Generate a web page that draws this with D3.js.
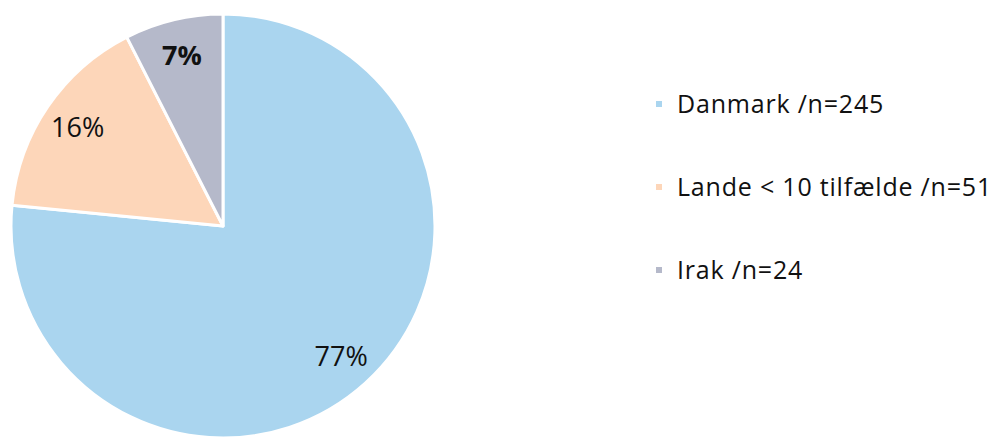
<!DOCTYPE html>
<html lang="da">
<head>
<meta charset="UTF-8">
<title>Fordeling</title>
<script src="https://cdn.jsdelivr.net/npm/d3@7"></script>
<style>
    html, body { margin: 0; padding: 0; background: #fff; }
    svg { display: block; font-family: "Open Sans", Lato, sans-serif; }
</style>
</head>
<body>
<svg id="chart" width="995" height="441"></svg>
<script>
    // Data
    const categories = ['Danmark /n=245', 'Lande < 10 tilfælde /n=51', 'Irak /n=24'];
    const counts = [245, 51, 24];
    const pctLabels = ['77%', '16%', '7%'];
    const colors = ['#aad5ef', '#fdd6b9', '#b5b9ca'];

    const svg = d3.select('#chart');
    const cx = 223, cy = 226, radius = 212;

    const g = svg.append('g').attr('transform', `translate(${cx},${cy})`);

    const pie = d3.pie().sort(null).value(d => d);
    const arcs = pie(counts);

    const arc = d3.arc().innerRadius(0).outerRadius(radius);
    const labelArc = d3.arc().innerRadius(176).outerRadius(176);

    // Skiver
    g.selectAll('.slice')
        .data(arcs)
        .enter()
        .append('path')
        .attr('class', 'slice')
        .attr('d', arc)
        .attr('fill', (d, i) => colors[i])
        .attr('stroke', '#fff')
        .attr('stroke-width', 3)
        .attr('stroke-linejoin', 'round');

    // Procent-etiketter
    g.selectAll('.pct')
        .data(arcs)
        .enter()
        .append('text')
        .attr('class', 'pct')
        .attr('transform', d => `translate(${labelArc.centroid(d)})`)
        .attr('text-anchor', 'middle')
        .attr('dy', '0.36em')
        .style('font-size', '27px')
        .style('font-weight', (d, i) => i === 2 ? 'bold' : 'normal')
        .style('fill', '#111')
        .text((d, i) => pctLabels[i]);

    // Legende
    const legendY = d3.scalePoint()
        .domain(categories)
        .range([104, 270]);

    const legend = svg.append('g').attr('transform', 'translate(656,0)');

    const items = legend.selectAll('.item')
        .data(categories)
        .enter()
        .append('g')
        .attr('class', 'item')
        .attr('transform', d => `translate(0,${legendY(d)})`);

    items.append('rect')
        .attr('x', 0)
        .attr('y', -3)
        .attr('width', 6)
        .attr('height', 6)
        .attr('fill', (d, i) => colors[i]);

    items.append('text')
        .attr('x', 21)
        .attr('dy', '0.36em')
        .style('font-size', '25px')
        .style('letter-spacing', '0.8px')
        .style('fill', '#111')
        .text(d => d);
</script>
</body>
</html>
